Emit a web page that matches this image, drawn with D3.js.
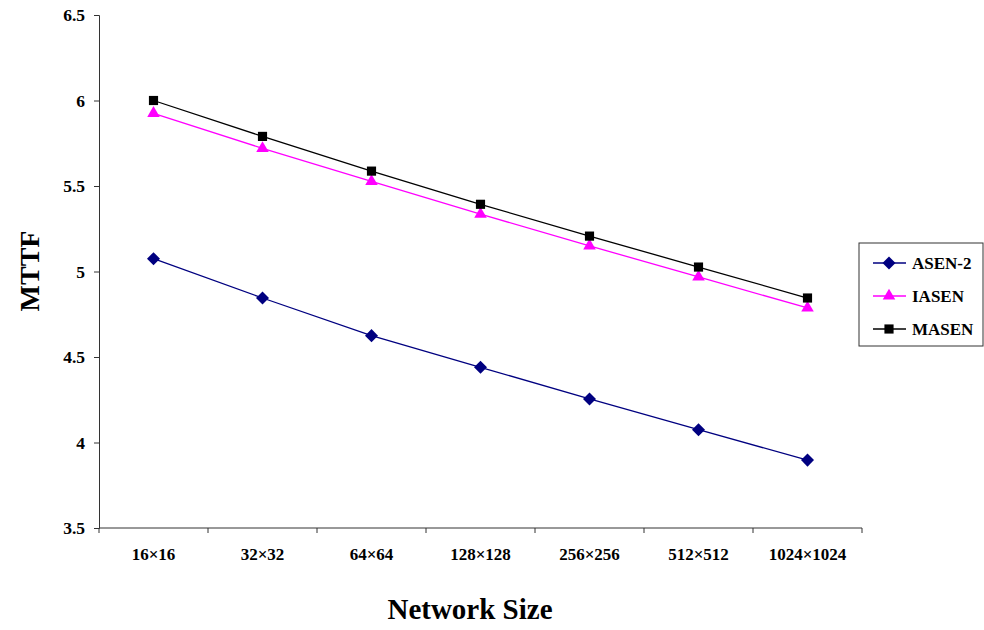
<!DOCTYPE html>
<html><head><meta charset="utf-8">
<script src="https://d3js.org/d3.v7.min.js"></script>
<style>body{margin:0;background:#fff}svg{display:block}</style>
</head><body><svg id="c" width="984" height="630"></svg>
<script>
const categories = ["16×16","32×32","64×64","128×128","256×256","512×512","1024×1024"];
const asen2 = [5.075, 4.845, 4.625, 4.44, 4.255, 4.075, 3.897];
const iasen = [5.925, 5.72, 5.527, 5.335, 5.15, 4.968, 4.787];
const masen = [6.0, 5.79, 5.587, 5.393, 5.207, 5.026, 4.845];
const yTicks = [3.5, 4, 4.5, 5, 5.5, 6, 6.5];
const seriesNames = ["ASEN-2","IASEN","MASEN"];

const series = [
  {name: seriesNames[0], values: asen2, color: "#000080", shape: d3.symbolSquare, size: 85, rot: 45},
  {name: seriesNames[1], values: iasen, color: "#FF00FF", shape: d3.symbolTriangle, size: 68, rot: 0},
  {name: seriesNames[2], values: masen, color: "#000000", shape: d3.symbolSquare, size: 84, rot: 0}
];

const svg = d3.select("#c");
const L = 99, R = 862, T = 15, B = 528;
const x = d3.scaleBand().domain(categories).range([L, R]);
const y = d3.scaleLinear().domain([3.5, 6.5]).range([B, T]);
const font = "'Liberation Serif', 'Times New Roman', serif";

// y axis
const ya = svg.append("g").attr("transform", `translate(${L},0)`)
  .call(d3.axisLeft(y).tickValues(yTicks).tickSize(5).tickPadding(9).tickFormat(d3.format("")));
ya.selectAll("text").attr("font-family", font).attr("font-size", 17.5).attr("font-weight", "bold").attr("fill", "#000");
ya.selectAll("line,path").attr("stroke", "#333");

// x axis
const xa = svg.append("g").attr("transform", `translate(0,${B})`)
  .call(d3.axisBottom(x).tickSize(0).tickPadding(20));
xa.selectAll("text").attr("font-family", font).attr("font-size", 17).attr("font-weight", "bold").attr("fill", "#000")
  .attr("dy", null).attr("y", 32);
xa.select("path").attr("stroke", "#333").attr("d", `M${L},0H${R}`);
const bounds = categories.map(c => x(c)).concat([R]);
xa.selectAll(".bt").data(bounds).enter().append("line").attr("class","bt")
  .attr("x1", d => d).attr("x2", d => d).attr("y1", 0).attr("y2", 5).attr("stroke", "#333");

// lines and markers
const line = d3.line().x((d, i) => x(categories[i]) + x.bandwidth()/2).y(d => y(d));
series.forEach(s => {
  svg.append("path").datum(s.values).attr("d", line).attr("fill", "none")
    .attr("stroke", s.color).attr("stroke-width", 1.3);
  svg.append("g").selectAll("path").data(s.values).enter().append("path")
    .attr("d", d3.symbol().type(s.shape).size(s.size))
    .attr("transform", (d, i) => `translate(${x(categories[i]) + x.bandwidth()/2},${y(d)}) rotate(${s.rot})`)
    .attr("fill", s.color);
});

// axis titles
svg.append("text").attr("transform", "translate(39,271) rotate(-90)").attr("text-anchor", "middle")
  .attr("font-family", font).attr("font-size", 28).attr("font-weight", "bold").text("MTTF");
svg.append("text").attr("x", 470).attr("y", 619).attr("text-anchor", "middle")
  .attr("font-family", font).attr("font-size", 29).attr("font-weight", "bold").text("Network Size");

// legend
const lg = svg.append("g");
lg.append("rect").attr("x", 859).attr("y", 243).attr("width", 124).attr("height", 103)
  .attr("fill", "#fff").attr("stroke", "#333").attr("stroke-width", 1);
series.forEach((s, i) => {
  const yy = 263 + i * 33;
  lg.append("line").attr("x1", 873).attr("x2", 906).attr("y1", yy).attr("y2", yy)
    .attr("stroke", s.color).attr("stroke-width", 1.3);
  lg.append("path").attr("d", d3.symbol().type(s.shape).size(s.size))
    .attr("transform", `translate(889,${yy}) rotate(${s.rot})`).attr("fill", s.color);
  lg.append("text").attr("x", 912).attr("y", yy + 6).attr("font-family", font)
    .attr("font-size", 17).attr("font-weight", "bold").text(s.name);
});
</script></body></html>
